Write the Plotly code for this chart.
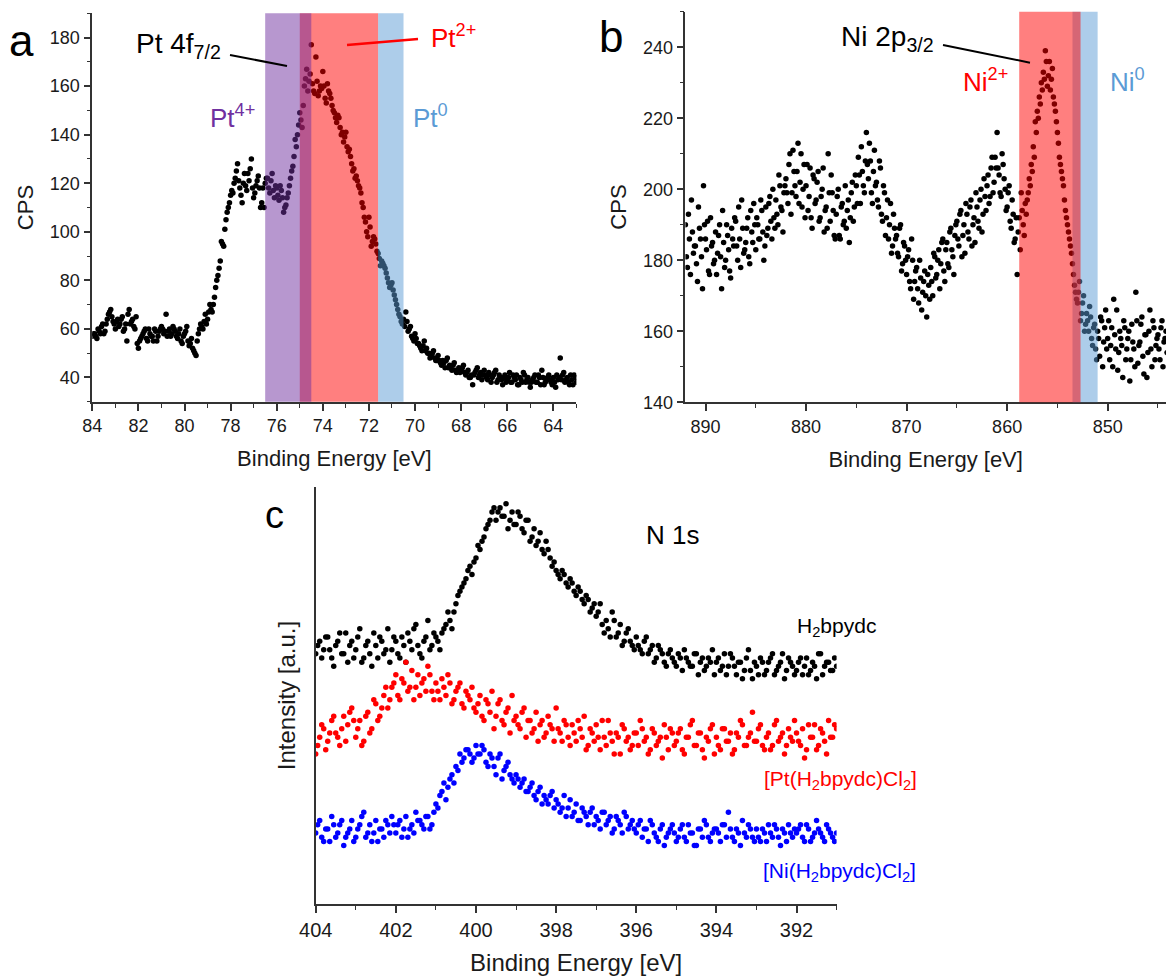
import numpy as np
import plotly.graph_objects as go

W, H = 1166, 978
FONT = "Liberation Sans, Arial, sans-serif"

# ---------------- Panel a : Pt 4f (CPS vs binding energy) ------------------------------------
# scan 1 on a 0.1 eV grid starting at 84.00 eV, scan 2 on the same grid shifted by 0.05 eV
pt_be_start, pt_be_step, pt_scan2_shift = 84.0, 0.1, 0.05
pt_cps = [
    57, 58, 56, 59, 61, 58, 62, 66, 68, 63,
    60, 64, 62, 65, 60, 55, 68, 63, 61, 65,
    52, 56, 58, 60, 55, 58, 57, 60, 55, 59,
    61, 58, 66, 59, 57, 61, 59, 56, 60, 54,
    58, 61, 53, 56, 51, 49, 58, 62, 60, 66,
    64, 70, 67, 73, 80, 85, 96, 94, 105, 110,
    115, 116, 122, 128, 118, 112, 124, 117, 121, 130,
    114, 119, 123, 110, 118, 120, 122, 116, 124, 114,
    118, 113, 117, 108, 111, 116, 122, 127, 138, 140,
    149, 143, 160, 167, 162, 177, 158, 172, 156, 160,
    166, 155, 161, 157, 152, 149, 145, 147, 140, 137,
    141, 133, 131, 125, 122, 121, 118, 112, 106, 100,
    106, 94, 98, 95, 91, 86, 87, 85, 81, 77,
    79, 74, 70, 66, 63, 64, 67, 59, 61, 56,
    58, 54, 53, 51, 55, 52, 50, 49, 51, 47,
    49, 46, 47, 44, 48, 45, 43, 46, 42, 44,
    43, 45, 41, 43, 40, 37, 42, 44, 41, 39,
    43, 40, 42, 38, 41, 43, 39, 40, 37, 41,
    39, 42, 38, 40, 41, 37, 39, 42, 38, 40,
    36, 39, 41, 38, 40, 43, 37, 39, 41, 38,
    40, 36, 39, 48, 41, 38, 40, 37, 39, 41,
    38,
]
pt_cps_scan2 = [
    58, 57, 60, 58, 62, 59, 64, 67, 65, 62,
    63, 61, 64, 59, 62, 66, 62, 64, 60, 54,
    55, 57, 59, 56, 60, 57, 55, 59, 57, 60,
    60, 59, 57, 60, 58, 60, 57, 58, 55, 57,
    59, 55, 54, 52, 50, 55, 60, 61, 63, 62,
    67, 68, 70, 77, 82, 88, 95, 101, 108, 112,
    117, 120, 125, 121, 115, 120, 119, 124, 126, 118,
    116, 121, 118, 112, 110, 122, 118, 121, 117, 119,
    115, 119, 114, 110, 114, 119, 125, 131, 135, 144,
    146, 152, 163, 158, 165, 161, 157, 162, 158, 159,
    160, 153, 158, 155, 150, 147, 148, 143, 141, 139,
    135, 134, 128, 126, 123, 119, 116, 110, 104, 98,
    102, 96, 97, 92, 89, 88, 86, 83, 79, 78,
    76, 72, 68, 65, 62, 61, 63, 60, 57, 55,
    56, 54, 52, 53, 51, 50, 48, 50, 48, 47,
    47, 45, 46, 47, 44, 44, 45, 43, 43, 42,
    44, 42, 42, 40, 41, 41, 43, 40, 42, 41,
    41, 39, 41, 40, 42, 38, 41, 39, 40, 38,
    40, 38, 41, 39, 37, 40, 38, 41, 39, 38,
    38, 40, 38, 41, 37, 40, 38, 40, 39, 37,
    38, 41, 40, 39, 42, 39, 38, 41, 37, 40,
]
pt_be = np.round(pt_be_start - pt_be_step * np.arange(len(pt_cps)), 2)
pt_be2 = np.round(pt_be_start - pt_scan2_shift - pt_be_step * np.arange(len(pt_cps_scan2)), 2)

# oxidation-state windows (eV) for panel a, in drawing order
pt_bands = [  # (label, from, to, fill)
    ("Pt2+", 75.0, 71.6, "rgba(255,0,0,0.5)"),
    ("Pt4+", 76.5, 74.5, "rgba(112,48,160,0.5)"),
    ("Pt0", 71.6, 70.5, "rgba(91,155,213,0.5)"),
]

# ---------------- Panel b : Ni 2p (CPS vs binding energy) ------------------------------------
ni_be_start, ni_be_step, ni_scan2_shift = 892.0, 0.2, 0.1
ni_cps = [
    190, 178, 186, 197, 182,
    184, 174, 189, 181, 201,
    186, 191, 176, 184, 179,
    188, 182, 190, 172, 185,
    180, 187, 177, 189, 184,
    191, 180, 186, 197, 182,
    185, 192, 179, 188, 196,
    183, 190, 186, 194, 180,
    195, 189, 198, 186, 192,
    197, 190, 201, 194, 199,
    203, 196, 210, 199, 205,
    198, 213, 202, 195, 207,
    201, 194, 206, 189, 203,
    197, 205, 192, 200, 188,
    195, 210, 191, 199, 187,
    193, 200, 186, 196, 191,
    189, 197, 192, 202, 195,
    201, 209, 196, 205, 199,
    216, 203, 208, 196, 211,
    202, 195, 206, 191, 199,
    192, 186, 196, 184, 189,
    187, 181, 190, 179, 184,
    176, 183, 172, 180, 174,
    178, 168, 175, 171, 177,
    164, 173, 178, 170, 181,
    176, 183, 179, 186, 174,
    185, 178, 189, 181, 187,
    191, 184, 194, 187, 182,
    193, 186, 197, 190, 185,
    195, 189, 200, 193, 198,
    201, 196, 206, 199, 209,
    216, 204, 198, 207, 200,
    195, 201, 189, 193, 186,
    176, 192, 199, 190, 196,
    197, 203, 207, 212, 219,
    222, 226, 230, 233, 239,
    229, 236, 231, 226, 222,
    216, 209, 205, 201, 194,
    190, 186, 182, 176, 171,
    168, 174, 165, 170, 162,
    163, 167, 158, 161, 155,
    160, 153, 163, 157, 166,
    158, 152, 161, 169, 155,
    149, 160, 156, 163, 152,
    158, 146, 162, 155, 171,
    151, 157, 164, 148, 159,
    154, 166, 150, 161, 156,
    159, 152, 163, 157, 160,
]
ni_cps_scan2 = [
    181, 193, 176, 188, 184,
    179, 195, 186, 172, 190,
    183, 177, 192, 185, 180,
    176, 187, 181, 194, 178,
    190, 183, 175, 186, 192,
    184, 195, 178, 189, 183,
    189, 181, 194, 185, 190,
    192, 186, 197, 188, 184,
    187, 196, 191, 200, 189,
    193, 204, 195, 188, 201,
    199, 207, 193, 211, 201,
    205, 196, 210, 200, 192,
    207, 198, 192, 204, 196,
    202, 191, 198, 206, 194,
    189, 199, 204, 194, 186,
    198, 187, 195, 190, 201,
    194, 185, 199, 191, 204,
    196, 204, 212, 201, 208,
    207, 213, 199, 205, 201,
    197, 208, 193, 201, 187,
    197, 190, 182, 193, 186,
    182, 189, 177, 185, 180,
    181, 174, 186, 169, 177,
    172, 180, 166, 174, 170,
    176, 169, 174, 182, 175,
    180, 172, 185, 177, 183,
    179, 188, 183, 176, 190,
    186, 193, 181, 190, 196,
    188, 195, 184, 192, 199,
    191, 197, 188, 203, 194,
    204, 198, 209, 202, 206,
    206, 199, 210, 203, 194,
    199, 191, 197, 185, 192,
    188, 183, 194, 187, 193,
    199, 201, 205, 209, 216,
    220, 224, 228, 231, 236,
    232, 228, 234, 224, 219,
    213, 207, 203, 197, 192,
    188, 184, 179, 173, 169,
    171, 163, 168, 160, 165,
    160, 164, 156, 162, 152,
    158, 164, 150, 161, 155,
    163, 156, 150, 159, 166,
    154, 158, 147, 161, 155,
    160, 152, 157, 150, 163,
    156, 162, 153, 159, 147,
    160, 155, 163, 152, 158,
    155, 161, 150, 158, 154,
]
ni_be = np.round(ni_be_start - ni_be_step * np.arange(len(ni_cps)), 2)
ni_be2 = np.round(ni_be_start - ni_scan2_shift - ni_be_step * np.arange(len(ni_cps_scan2)), 2)

ni_bands = [  # drawn in this order
    ("Ni0", 853.5, 851.0, "rgba(91,155,213,0.5)"),
    ("Ni2+", 858.8, 852.7, "rgba(255,0,0,0.5)"),
]

# ---------------- Panel c : N 1s (offset intensities, a.u.) ---------------------------------
n_be_start, n_be_step, n_scan2_shift = 404.0, 0.1, 0.05
n_h2bpydc = [
    60, 63, 61, 64, 59, 62, 65, 60, 58, 63,
    61, 66, 59, 63, 57, 62, 64, 60, 66, 61,
    63, 59, 62, 65, 61, 67, 60, 63, 68, 62,
    64, 61, 66, 70, 66, 72, 75, 77, 80, 79,
    83, 85, 88, 91, 94, 92, 95, 93, 90, 94,
    91, 93, 89, 92, 88, 86, 89, 84, 85, 81,
    80, 78, 79, 76, 77, 74, 75, 72, 73, 71,
    69, 72, 65, 66, 70, 64, 67, 63, 66, 62,
    64, 61, 63, 60, 62, 59, 61, 58, 60, 59,
    57, 59, 61, 58, 57, 60, 58, 56, 59, 61,
    58, 56, 60, 57, 59, 55, 58, 56, 61, 54,
    57, 59, 55, 58, 60, 56, 58, 54, 59, 57,
    56, 59, 57, 55, 58, 54, 60, 57, 58, 56, 57,
]
n_h2bpydc_2 = [
    62, 59, 64, 61, 57, 63, 60, 65, 62, 59,
    64, 58, 62, 60, 65, 59, 63, 61, 58, 64,
    60, 64, 58, 63, 66, 62, 59, 64, 61, 65,
    63, 65, 67, 68, 70, 74, 76, 78, 81, 82,
    86, 87, 90, 92, 95, 94, 93, 96, 92, 91,
    94, 90, 92, 87, 90, 87, 85, 87, 83, 82,
    79, 80, 77, 78, 75, 76, 73, 74, 70, 72,
    70, 67, 68, 64, 68, 65, 62, 65, 63, 61,
    62, 60, 64, 61, 58, 62, 60, 57, 61, 58,
    60, 56, 59, 57, 60, 55, 59, 57, 58, 55,
    59, 57, 55, 60, 57, 58, 54, 59, 56, 58,
    55, 58, 56, 59, 55, 57, 60, 56, 58, 55,
    58, 55, 59, 56, 57, 60, 55, 58, 56, 59,
]
n_pt_complex = [
    36, 40, 42, 39, 44, 41, 38, 45, 43, 47,
    40, 44, 39, 46, 42, 48, 45, 50, 47, 52,
    55, 49, 53, 51, 56, 52, 50, 54, 57, 51,
    53, 49, 52, 55, 48, 51, 53, 47, 50, 52,
    46, 50, 44, 48, 51, 45, 49, 43, 47, 50,
    45, 42, 47, 44, 41, 46, 43, 40, 45, 42,
    47, 41, 44, 40, 43, 39, 42, 45, 38, 41,
    43, 37, 40, 44, 39, 41, 36, 42, 40, 38,
    41, 44, 39, 36, 42, 38, 40, 43, 37, 41,
    39, 42, 36, 40, 44, 38, 41, 35, 39, 43,
    40, 37, 42, 39, 36, 41, 44, 38, 40, 46,
    39, 43, 37, 41, 38, 44, 40, 36, 42, 39,
    41, 38, 35, 43, 40, 37, 42, 39, 44, 40, 42,
]
n_pt_complex_2 = [
    38, 43, 37, 41, 45, 40, 42, 39, 46, 44,
    42, 38, 45, 41, 49, 44, 47, 52, 49, 53,
    50, 54, 58, 52, 49, 55, 53, 51, 55, 49,
    51, 54, 50, 53, 49, 52, 48, 51, 49, 47,
    48, 45, 49, 46, 42, 48, 44, 46, 41, 44,
    43, 46, 40, 44, 42, 39, 44, 41, 43, 39,
    42, 39, 43, 38, 41, 44, 40, 37, 42, 39,
    40, 44, 38, 41, 36, 40, 43, 39, 37, 41,
    38, 42, 40, 37, 41, 39, 35, 40, 42, 38,
    41, 37, 40, 43, 38, 41, 37, 40, 42, 36,
    38, 42, 39, 41, 37, 40, 43, 38, 41, 39,
    42, 38, 40, 37, 43, 39, 41, 38, 40, 44,
    39, 42, 37, 40, 43, 38, 41, 36, 40, 43,
]
n_ni_complex = [
    17, 20, 15, 18, 21, 16, 19, 14, 17, 20,
    16, 19, 22, 17, 15, 20, 18, 16, 19, 21,
    17, 20, 18, 16, 19, 22, 20, 18, 21, 19,
    24, 26, 29, 28, 31, 33, 36, 35, 37, 34,
    38, 36, 37, 33, 35, 31, 36, 32, 34, 30,
    31, 28, 30, 27, 29, 25, 28, 26, 24, 27,
    25, 22, 26, 23, 21, 24, 20, 22, 19, 23,
    21, 18, 22, 20, 17, 21, 19, 22, 18, 20,
    17, 20, 18, 15, 19, 16, 18, 14, 17, 19,
    15, 18, 16, 19, 17, 14, 18, 20, 16, 17,
    18, 15, 19, 22, 16, 18, 14, 17, 19, 16,
    18, 15, 17, 19, 16, 18, 14, 17, 19, 16,
    17, 19, 15, 18, 16, 20, 17, 15, 18, 16, 17,
]
n_ni_complex_2 = [
    19, 16, 18, 15, 19, 17, 20, 16, 18, 15,
    18, 21, 16, 19, 17, 15, 18, 20, 17, 19,
    19, 16, 21, 18, 17, 20, 19, 21, 18, 22,
    23, 27, 25, 30, 29, 32, 34, 37, 36, 35,
    36, 38, 34, 36, 33, 35, 30, 33, 31, 29,
    30, 29, 27, 28, 26, 27, 24, 25, 26, 23,
    24, 23, 21, 25, 22, 20, 23, 21, 22, 19,
    20, 22, 19, 21, 18, 20, 17, 21, 19, 18,
    19, 16, 18, 20, 17, 15, 19, 16, 18, 17,
    16, 19, 15, 17, 14, 18, 16, 19, 15, 18,
    17, 19, 16, 18, 15, 17, 20, 16, 18, 15,
    16, 18, 15, 17, 19, 16, 18, 15, 17, 18,
    18, 16, 19, 15, 17, 18, 16, 19, 17, 15,
]
n_be = np.round(n_be_start - n_be_step * np.arange(len(n_h2bpydc)), 2)
n_be2 = np.round(n_be_start - n_scan2_shift - n_be_step * np.arange(len(n_h2bpydc_2)), 2)

# ---------------------------------------------------------------------------------------------
def px(x):
    return x / W


def py(y):
    return 1 - y / H


AX_COL = "#333333"
TICK_FONT = dict(family=FONT, size=18, color="#1a1a1a")
TITLE_FONT = dict(family=FONT, size=22, color="#1a1a1a")


def xax(domain, rng, dtick, tick0, mdtick, anchor, tickfont=TICK_FONT, titlefont=TITLE_FONT, standoff=14):
    return dict(
        domain=domain, range=rng, anchor=anchor, dtick=dtick, tick0=tick0,
        showline=True, linecolor=AX_COL, linewidth=1.6, mirror=False,
        ticks="outside", ticklen=7, tickwidth=1.5, tickcolor=AX_COL,
        minor=dict(dtick=mdtick, ticks="outside", ticklen=4, tickwidth=1.3, tickcolor=AX_COL, showgrid=False),
        showgrid=False, zeroline=False, tickfont=tickfont,
        title=dict(text="Binding Energy [eV]", font=titlefont, standoff=standoff),
        automargin=False,
    )


def yax(domain, rng, dtick, tick0, mdtick, anchor, standoff=10):
    return dict(
        domain=domain, range=rng, anchor=anchor, dtick=dtick, tick0=tick0,
        showline=True, linecolor=AX_COL, linewidth=1.6, mirror=False,
        ticks="outside", ticklen=7, tickwidth=1.5, tickcolor=AX_COL,
        minor=dict(dtick=mdtick, ticks="outside", ticklen=4, tickwidth=1.3, tickcolor=AX_COL, showgrid=False),
        showgrid=False, zeroline=False, tickfont=TICK_FONT,
        title=dict(text="CPS", font=TITLE_FONT, standoff=standoff),
        automargin=False,
    )


fig = go.Figure()

mk = dict(size=5.5, line=dict(width=0))
fig.add_trace(go.Scatter(x=np.concatenate([pt_be, pt_be2]), y=pt_cps + pt_cps_scan2, mode="markers",
                         marker=dict(color="black", **mk), xaxis="x", yaxis="y", showlegend=False,
                         name="Pt 4f"))
fig.add_trace(go.Scatter(x=np.concatenate([ni_be, ni_be2]), y=ni_cps + ni_cps_scan2, mode="markers",
                         marker=dict(color="black", **mk), xaxis="x2", yaxis="y2", showlegend=False,
                         name="Ni 2p"))
fig.add_trace(go.Scatter(x=np.concatenate([n_be, n_be2]), y=n_h2bpydc + n_h2bpydc_2, mode="markers",
                         marker=dict(color="black", **mk), xaxis="x3", yaxis="y3", showlegend=False,
                         name="H2bpydc"))
fig.add_trace(go.Scatter(x=np.concatenate([n_be, n_be2]), y=n_pt_complex + n_pt_complex_2, mode="markers",
                         marker=dict(color="#ff0000", **mk), xaxis="x3", yaxis="y3", showlegend=False,
                         name="[Pt(H2bpydc)Cl2]"))
fig.add_trace(go.Scatter(x=np.concatenate([n_be, n_be2]), y=n_ni_complex + n_ni_complex_2, mode="markers",
                         marker=dict(color="#0000ff", **mk), xaxis="x3", yaxis="y3", showlegend=False,
                         name="[Ni(H2bpydc)Cl2]"))

shapes = []
for _, a, b, col in pt_bands:
    shapes.append(dict(type="rect", xref="x", yref="y domain", x0=a, x1=b, y0=0, y1=1,
                       fillcolor=col, line=dict(width=0), layer="above"))
for _, a, b, col in ni_bands:
    shapes.append(dict(type="rect", xref="x2", yref="y2 domain", x0=a, x1=b, y0=0, y1=1,
                       fillcolor=col, line=dict(width=0), layer="above"))
# pointer lines
shapes.append(dict(type="line", xref="paper", yref="paper", x0=px(230), y0=py(55), x1=px(287), y1=py(66),
                   line=dict(color="black", width=2)))
shapes.append(dict(type="line", xref="paper", yref="paper", x0=px(347), y0=py(45), x1=px(418), y1=py(39),
                   line=dict(color="#ff0000", width=2.5)))
shapes.append(dict(type="line", xref="paper", yref="paper", x0=px(943), y0=py(45), x1=px(1030), y1=py(62.7),
                   line=dict(color="black", width=2)))


def ann(text, x, y, size, color="black", xanchor="center"):
    return dict(text=text, x=px(x), y=py(y), xref="paper", yref="paper", showarrow=False,
                xanchor=xanchor, yanchor="middle", font=dict(family=FONT, size=size, color=color))


annotations = [
    ann("a", 21.5, 40, 44),
    ann("b", 611, 36, 44),
    ann("c", 274, 515, 38),
    ann("Pt 4f<sub>7/2</sub>", 178, 46, 28),
    ann("Pt<sup>2+</sup>", 453, 36, 26, "#ff0000"),
    ann("Pt<sup>4+</sup>", 232, 116, 26, "#7030a0"),
    ann("Pt<sup>0</sup>", 430, 116, 26, "#5b9bd5"),
    ann("Ni 2p<sub>3/2</sub>", 887, 39, 28),
    ann("Ni<sup>2+</sup>", 985, 80, 26, "#ff0000"),
    ann("Ni<sup>0</sup>", 1127, 80, 26, "#5b9bd5"),
    ann("N 1s", 672, 535, 26),
    ann("H<sub>2</sub>bpydc", 836, 627, 21),
    ann("[Pt(H<sub>2</sub>bpydc)Cl<sub>2</sub>]", 840, 780, 21, "#ff0000"),
    ann("[Ni(H<sub>2</sub>bpydc)Cl<sub>2</sub>]", 839, 872, 21, "#0000ff"),
]

C_TICK = dict(family=FONT, size=20, color="#1a1a1a")
C_TITLE = dict(family=FONT, size=24, color="#1a1a1a")

layout = dict(
    width=W, height=H, autosize=False,
    margin=dict(l=0, r=0, t=0, b=0),
    paper_bgcolor="white", plot_bgcolor="white",
    font=dict(family=FONT),
    xaxis=xax([px(92.3), px(576.4)], [84, 63], 2, 84, 1, "y", standoff=16),
    yaxis=yax([py(401.7), py(13.3)], [30, 190], 20, 40, 10, "x", standoff=10),
    xaxis2=xax([px(685.4), 1.0], [892, 844.2], 10, 850, 5, "y2", standoff=16),
    yaxis2=yax([py(402.3), py(11.8)], [140, 250], 20, 140, 10, "x2", standoff=10),
    xaxis3=xax([px(315.7), px(836.6)], [404, 391], 2, 404, 1, "y3", tickfont=C_TICK, titlefont=C_TITLE, standoff=14),
    yaxis3=dict(domain=[py(904), py(487)], range=[0, 100], anchor="x3",
                showline=True, linecolor=AX_COL, linewidth=1.6, ticks="", showticklabels=False,
                showgrid=False, zeroline=False, automargin=False,
                title=dict(text="Intensity [a.u.]", font=C_TITLE, standoff=12)),
    shapes=shapes,
    annotations=annotations,
)
fig.update_layout(**layout)
fig.write_html("out.html")
